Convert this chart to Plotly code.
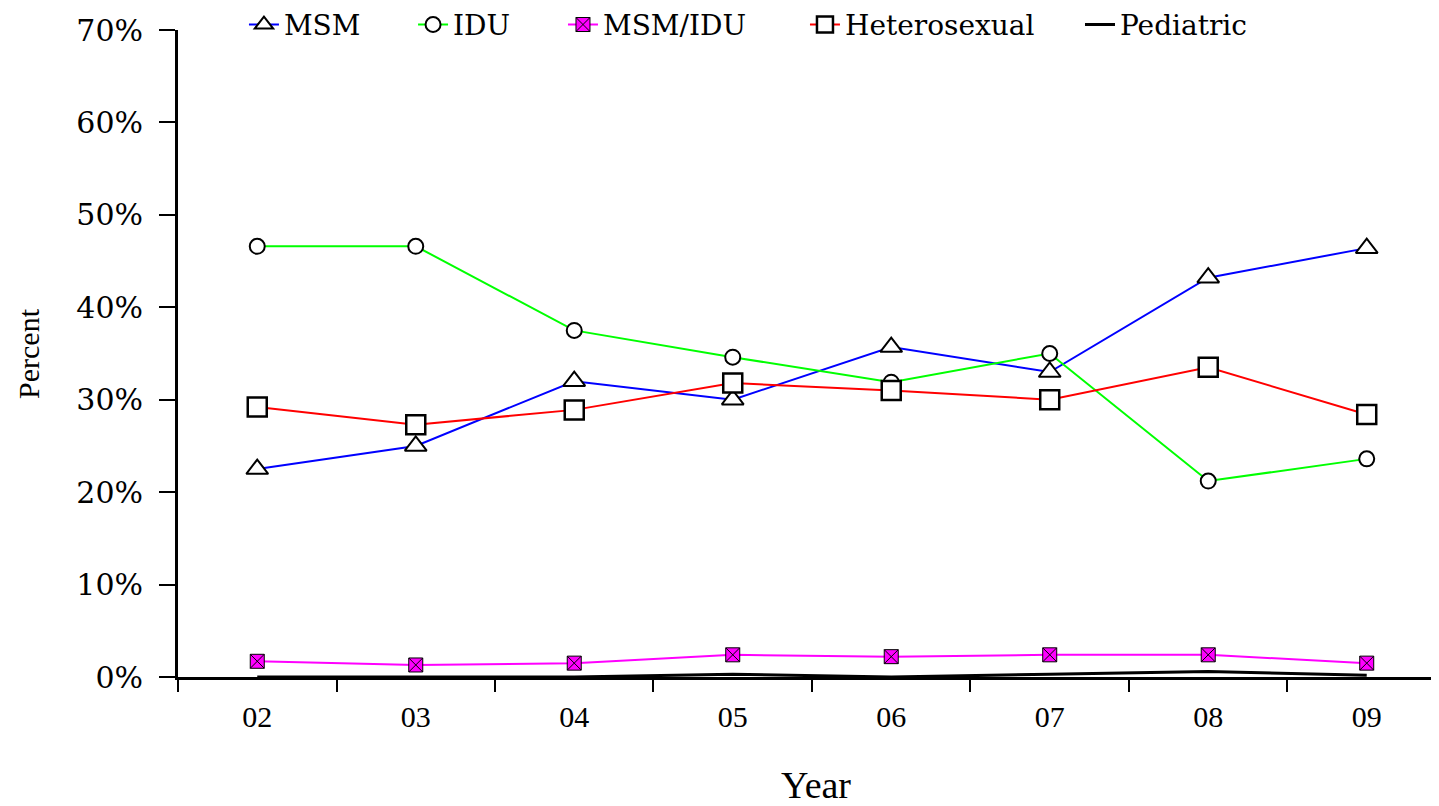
import plotly.graph_objects as go

years = ["02", "03", "04", "05", "06", "07", "08", "09"]
msm = [22.5, 25.0, 32.0, 30.0, 35.7, 33.0, 43.2, 46.4]
idu = [46.6, 46.6, 37.5, 34.6, 31.9, 35.0, 21.2, 23.6]
msm_idu = [1.7, 1.3, 1.5, 2.4, 2.2, 2.4, 2.4, 1.5]
hetero = [29.2, 27.3, 28.9, 31.8, 31.0, 30.0, 33.5, 28.4]
pediatric = [0.0, 0.0, 0.0, 0.3, 0.0, 0.3, 0.6, 0.2]
y_ticks = [0, 10, 20, 30, 40, 50, 60, 70]
y_tick_text = ["0%", "10%", "20%", "30%", "40%", "50%", "60%", "70%"]

FONT = "DejaVu Serif"
FONT2 = "Liberation Serif"

fig = go.Figure()
fig.add_trace(go.Scatter(x=years, y=msm, name="MSM", mode="lines+markers", legend="legend",
                         line=dict(color="#0000ff", width=2),
                         marker=dict(symbol="triangle-up", size=19, color="white",
                                     line=dict(color="black", width=2))))
fig.add_trace(go.Scatter(x=years, y=idu, name="IDU", mode="lines+markers", legend="legend2",
                         line=dict(color="#00ff00", width=2),
                         marker=dict(symbol="circle", size=15, color="white",
                                     line=dict(color="black", width=2))))
fig.add_trace(go.Scatter(x=years, y=msm_idu, name="MSM/IDU", mode="lines+markers", legend="legend3",
                         line=dict(color="#ff00ff", width=2),
                         marker=dict(symbol="square-x", size=14, color="#ff00ff",
                                     line=dict(color="black", width=1))))
fig.add_trace(go.Scatter(x=years, y=hetero, name="Heterosexual", mode="lines+markers", legend="legend4",
                         line=dict(color="#ff0000", width=2),
                         marker=dict(symbol="square", size=19, color="white",
                                     line=dict(color="black", width=2.5))))
fig.add_trace(go.Scatter(x=years, y=pediatric, name="Pediatric", mode="lines", legend="legend5",
                         line=dict(color="black", width=3)))

def leg(xp):
    return dict(orientation="h", x=xp, y=1.008, xanchor="left", yanchor="middle",
                font=dict(size=28, family=FONT), bgcolor="rgba(0,0,0,0)")

fig.update_layout(
    width=1431, height=798,
    margin=dict(l=170, r=0, t=22, b=129, autoexpand=False),
    plot_bgcolor="white", paper_bgcolor="white",
    font=dict(family=FONT, color="black", size=26),
    showlegend=True,
    legend=leg(0.0523),
    legend2=leg(0.1864),
    legend3=leg(0.3053),
    legend4=leg(0.4972),
    legend5=leg(0.7153),
    xaxis=dict(
        type="category", range=[-0.5, 7.456], automargin=False,
        showline=True, linecolor="black", linewidth=3,
        ticks="outside", ticklen=12, tickwidth=2, tickcolor="black",
        tickson="boundaries", showgrid=False, zeroline=False,
        tickfont=dict(size=30, family=FONT2),
        ticklabelstandoff=11,
    ),
    yaxis=dict(
        range=[0, 70], tickvals=y_ticks, ticktext=y_tick_text, automargin=False,
        showline=True, linecolor="black", linewidth=3,
        ticks="outside", ticklen=16, tickwidth=2, tickcolor="black",
        showgrid=False, zeroline=False,
        tickfont=dict(size=30, family=FONT),
        ticklabelstandoff=10,
    ),
    annotations=[
        dict(text="Year", xref="paper", yref="paper", x=0.506, y=-0.1669,
             xanchor="center", yanchor="middle", showarrow=False,
             font=dict(size=38, family=FONT2, color="black")),
        dict(text="Percent", xref="paper", yref="paper", x=-0.1182, y=0.5008,
             xanchor="center", yanchor="middle", showarrow=False, textangle=-90,
             font=dict(size=30, family=FONT2, color="black")),
    ],
)

fig.write_html("out.html")
